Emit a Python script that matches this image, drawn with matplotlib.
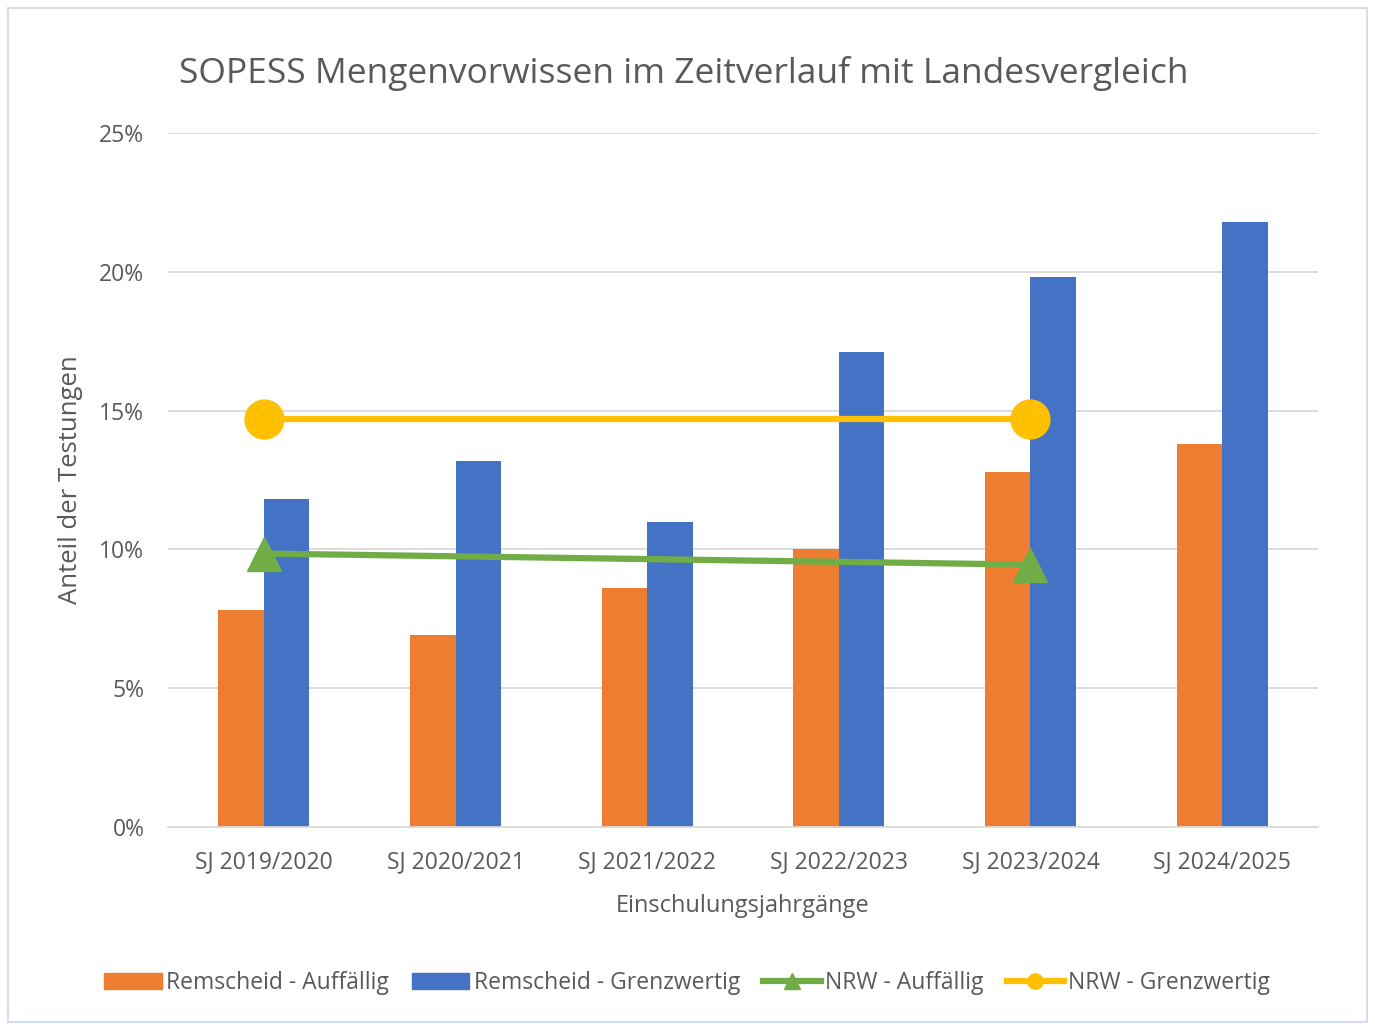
import matplotlib.pyplot as plt
from matplotlib.patches import Rectangle
from matplotlib.lines import Line2D
from matplotlib.ticker import PercentFormatter

plt.rcParams['font.family'] = ['Open Sans', 'DejaVu Sans']

jahrgaenge = ["SJ 2019/2020", "SJ 2020/2021", "SJ 2021/2022",
              "SJ 2022/2023", "SJ 2023/2024", "SJ 2024/2025"]
remscheid_auffaellig = [7.8, 6.9, 8.6, 10.0, 12.8, 13.8]
remscheid_grenzwertig = [11.8, 13.2, 11.0, 17.1, 19.8, 21.8]
# NRW-Werte nur fuer 2019/2020 und 2023/2024
nrw_idx = [0, 4]
nrw_auffaellig = [9.85, 9.45]
nrw_grenzwertig = [14.7, 14.7]

c_orange = '#ED7D31'
c_blau = '#4472C4'
c_gruen = '#70AD47'
c_gelb = '#FFC000'
c_text = '#595959'

fig = plt.figure(figsize=(13.75, 10.26), dpi=100)
ax = fig.add_axes([0.1222, 0.194, 0.8363, 0.6764])

# Rahmen um die Grafik
fig.patches.append(Rectangle((0.006, 0.004), 0.988, 0.988, transform=fig.transFigure,
                             fill=False, edgecolor='#d6dcef', linewidth=1.5))

x = list(range(len(jahrgaenge)))
w = 0.237
ax.bar([i - w / 2 for i in x], remscheid_auffaellig, width=w, color=c_orange,
       label="Remscheid - Auffällig", zorder=2)
ax.bar([i + w / 2 for i in x], remscheid_grenzwertig, width=w, color=c_blau,
       label="Remscheid - Grenzwertig", zorder=2)
ax.plot(nrw_idx, nrw_auffaellig, color=c_gruen, lw=4.5, marker='^', markersize=24,
        label="NRW - Auffällig", zorder=3)
ax.plot(nrw_idx, nrw_grenzwertig, color=c_gelb, lw=4.5, marker='o', markersize=28,
        label="NRW - Grenzwertig", zorder=3)

ax.set_xlim(-0.5, 5.5)
ax.set_ylim(0, 25)
ax.set_yticks([0, 5, 10, 15, 20, 25])
ax.yaxis.set_major_formatter(PercentFormatter(decimals=0))
ax.set_xticks(x)
ax.set_xticklabels(jahrgaenge)
ax.grid(axis='y', color='#d9d9d9', lw=1.3, zorder=0)
for s in ['top', 'right', 'left']:
    ax.spines[s].set_visible(False)
ax.spines['bottom'].set_color('#d9d9d9')
ax.spines['bottom'].set_linewidth(1.3)
ax.tick_params(length=0, labelsize=16.5, colors=c_text)
ax.tick_params(axis='x', pad=17)
ax.tick_params(axis='y', pad=17)

fig.text(0.497, 0.928, "SOPESS Mengenvorwissen im Zeitverlauf mit Landesvergleich",
         fontsize=25.5, color=c_text, ha='center', va='center')
ax.set_xlabel("Einschulungsjahrgänge", fontsize=17, color=c_text, labelpad=14)
ax.set_ylabel("Anteil der Testungen", fontsize=18.5, color=c_text, labelpad=12)

handles = [
    Rectangle((0, 0), 1, 1, color=c_orange),
    Rectangle((0, 0), 1, 1, color=c_blau),
    Line2D([], [], color=c_gruen, lw=4.5, marker='^', markersize=11),
    Line2D([], [], color=c_gelb, lw=4.5, marker='o', markersize=11),
]
labels = ["Remscheid - Auffällig", "Remscheid - Grenzwertig",
          "NRW - Auffällig", "NRW - Grenzwertig"]
fig.legend(handles, labels, loc='center', bbox_to_anchor=(0.5, 0.042), ncol=4,
           frameon=False, fontsize=16.5, labelcolor=c_text, handlelength=2.5,
           handletextpad=0.2, columnspacing=1.0)

plt.savefig('out.png', dpi=100)
